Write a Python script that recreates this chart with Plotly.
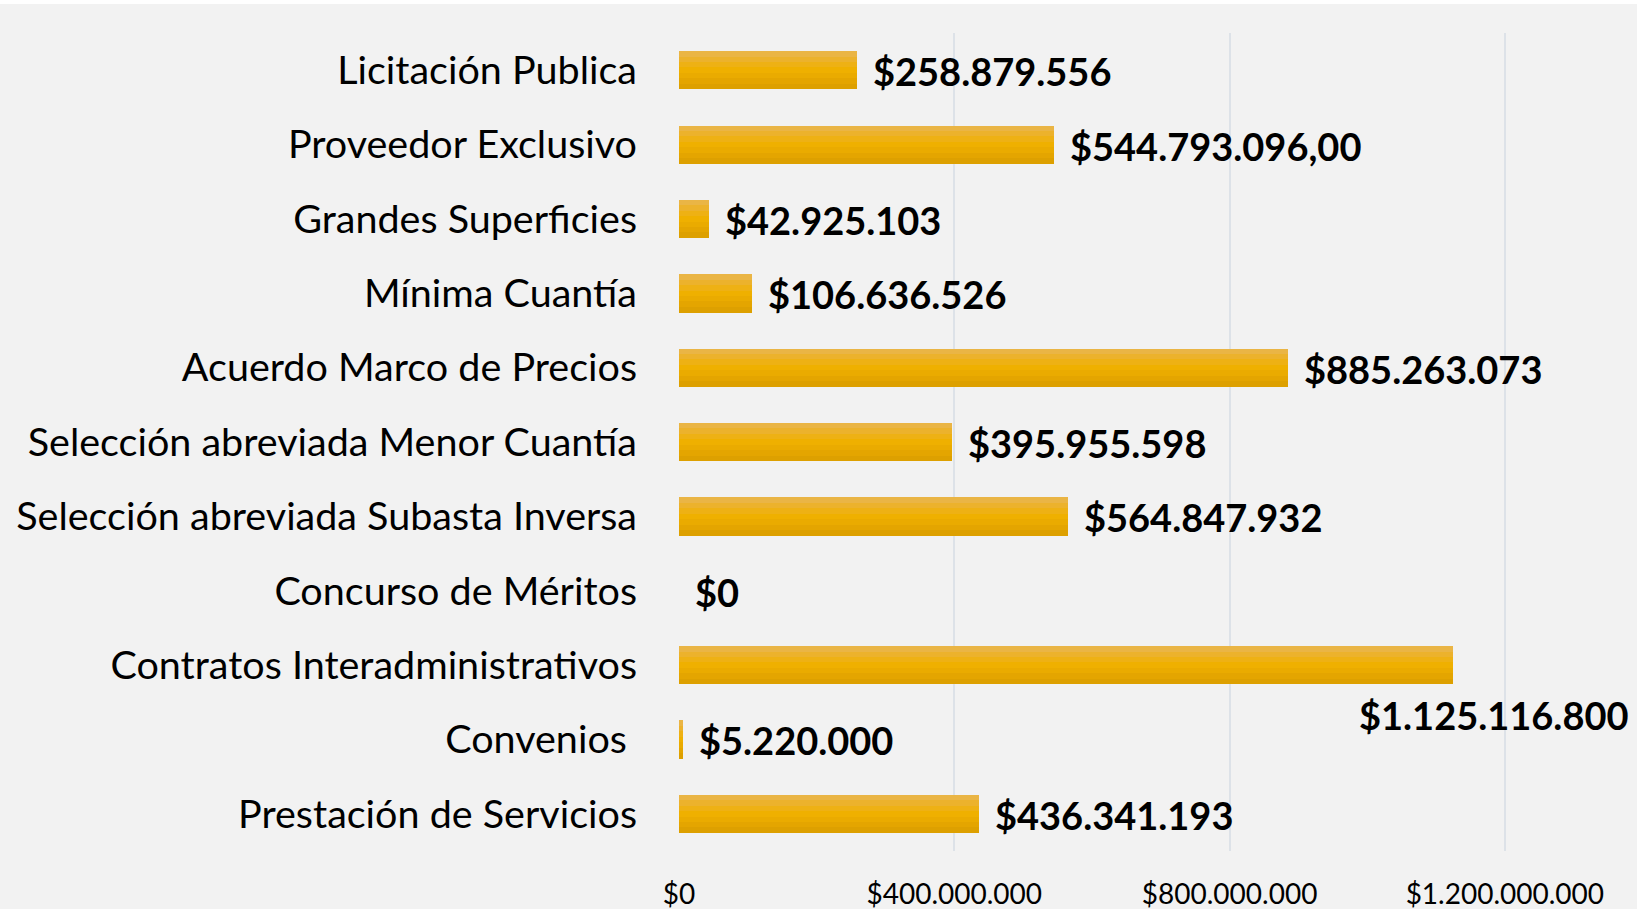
import plotly.graph_objects as go

categories = [
    "Licitación Publica",
    "Proveedor Exclusivo",
    "Grandes Superficies",
    "Mínima Cuantía",
    "Acuerdo Marco de Precios",
    "Selección abreviada Menor Cuantía",
    "Selección abreviada Subasta Inversa",
    "Concurso de Méritos",
    "Contratos Interadministrativos",
    "Convenios\u00a0",
    "Prestación de Servicios",
]
values = [258879556, 544793096.00, 42925103, 106636526, 885263073, 395955598,
          564847932, 0, 1125116800, 5220000, 436341193]
value_labels = ["$258.879.556", "$544.793.096,00", "$42.925.103", "$106.636.526",
                "$885.263.073", "$395.955.598", "$564.847.932", "$0",
                "$1.125.116.800", "$5.220.000", "$436.341.193"]
tick_vals = [0, 400000000, 800000000, 1200000000]
tick_text = ["$0", "$400.000.000", "$800.000.000", "$1.200.000.000"]

FONT = "Lato"
fig = go.Figure()

# gradient bands for the bars (top light -> middle -> bottom darker)
band_colors = ["#eab545", "#ecb22c", "#eeb114", "#efb000", "#eaab00", "#e4a500", "#dda000"]
bar_w = 0.511
n = len(band_colors)
bw = bar_w / n
for i, c in enumerate(band_colors):
    fig.add_trace(go.Bar(
        y=categories, x=values, orientation="h",
        width=bw + 0.004, offset=-bar_w / 2 + i * bw,
        marker=dict(color=c, line=dict(width=0)),
        showlegend=False, hoverinfo="skip",
    ))

label_font = dict(family=FONT, size=38, color="black", weight="bold")
annotations = []
for cat, v, lab in zip(categories, values, value_labels):
    if v > 1.0e9:
        annotations.append(dict(x=v, y=cat, xref="x", yref="y", text=lab,
                                showarrow=False, xanchor="right", xshift=178, yshift=-50,
                                font=label_font))
    else:
        annotations.append(dict(x=v, y=cat, xref="x", yref="y", text=lab,
                                showarrow=False, xanchor="left", xshift=14, yshift=-1,
                                font=label_font))

fig.update_layout(
    width=1637, height=909,
    margin=dict(l=679, r=0, t=33, b=58),
    paper_bgcolor="#f2f2f2", plot_bgcolor="#f2f2f2",
    barmode="overlay", bargap=0,
    annotations=annotations,
    shapes=[dict(type="rect", xref="paper", yref="paper", x0=-1, x1=2,
                 y0=1 + 29 / 818, y1=1 + 40 / 818, fillcolor="white", line=dict(width=0))],
    xaxis=dict(range=[0, 1.392e9], tickvals=tick_vals, ticktext=tick_text,
               showgrid=True, gridcolor="#dde2e8", gridwidth=2, zeroline=False,
               ticklabelstandoff=24, automargin=False,
               tickfont=dict(family=FONT, size=28, color="black")),
    yaxis=dict(autorange="reversed", showgrid=False, zeroline=False,
               ticklabelstandoff=41, automargin=False,
               tickfont=dict(family=FONT, size=39.5, color="black")),
)

fig.write_html("out.html", config={"displayModeBar": False},
               post_script="document.body.style.margin='0';document.body.style.overflow='hidden';")
